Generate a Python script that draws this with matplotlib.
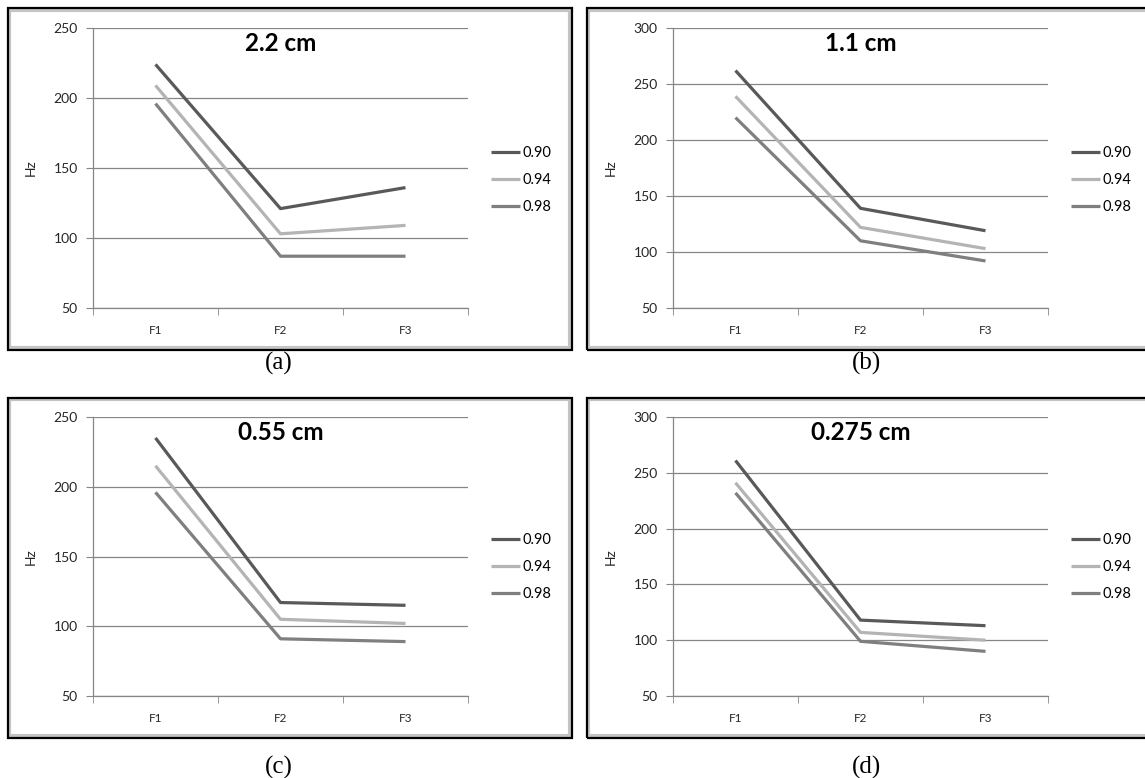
import matplotlib
matplotlib.use('Agg')
import matplotlib.pyplot as plt
from matplotlib.patches import Rectangle

plt.rcParams['font.family'] = ['Lato', 'DejaVu Sans']

categories = ['F1', 'F2', 'F3']
series_names = ['0.90', '0.94', '0.98']
series_colors = ['#595959', '#b4b4b4', '#7f7f7f']

titles = ['2.2 cm', '1.1 cm', '0.55 cm', '0.275 cm']
captions = ['(a)', '(b)', '(c)', '(d)']

# values (Hz)
vals_22 = [[224, 121, 136], [209, 103, 109], [196, 87, 87]]
vals_11 = [[262, 139, 119], [239, 122, 103], [220, 110, 92]]
vals_055 = [[235, 117, 115], [215, 105, 102], [196, 91, 89]]
vals_0275 = [[261, 118, 113], [241, 107, 100], [232, 99, 90]]
panel_values = [vals_22, vals_11, vals_055, vals_0275]

y_limits = [(50, 250), (50, 300), (50, 250), (50, 300)]

W, H = 1145, 778
fig = plt.figure(figsize=(W / 100, H / 100), dpi=100)


def px_axes(left, top, right, bottom):
    return fig.add_axes([left / W, 1 - bottom / H, (right - left) / W, (bottom - top) / H])


def frame(left, top, right, bottom):
    # black outer border plus grey inner one, like the exported chart
    fig.patches.append(Rectangle((left / W, 1 - bottom / H), (right - left) / W, (bottom - top) / H,
                                 transform=fig.transFigure, fill=False, edgecolor='#c4c4c4',
                                 linewidth=3, zorder=0))
    fig.patches.append(Rectangle(((left - 1.5) / W, 1 - (bottom + 1.5) / H), (right - left + 3) / W,
                                 (bottom - top + 3) / H, transform=fig.transFigure, fill=False,
                                 edgecolor='black', linewidth=1.6, zorder=1))


# pixel boxes: (frame, axes, caption position)
layout = [
    ((9, 10, 570, 348), (93, 28, 468, 308), (279, 363)),
    ((588, 10, 1150, 348), (673, 28, 1048, 308), (866, 363)),
    ((9, 399, 570, 736), (93, 417, 468, 696), (279, 767)),
    ((588, 399, 1150, 736), (673, 417, 1048, 696), (866, 767)),
]

for i in range(4):
    fr, ab, cap = layout[i]
    frame(*fr)
    ax = px_axes(*ab)
    x = list(range(len(categories)))
    for name, col, vals in zip(series_names, series_colors, panel_values[i]):
        ax.plot(x, vals, color=col, linewidth=2.3, label=name, solid_capstyle='butt')

    ax.set_xlim(-0.5, 2.5)
    ax.set_ylim(*y_limits[i])
    ax.set_yticks(range(y_limits[i][0], y_limits[i][1] + 1, 50))
    ax.set_xticks(x)
    ax.set_xticklabels(categories)
    ax.set_xticks([-0.5, 0.5, 1.5, 2.5], minor=True)
    ax.tick_params(axis='x', which='major', length=0, pad=12, labelsize=8.5, labelcolor='#262626')
    ax.tick_params(axis='x', which='minor', length=5, color='#868686', direction='out')
    ax.tick_params(axis='y', length=5, color='#868686', pad=6, labelsize=10, labelcolor='#262626')
    ax.yaxis.grid(True, color='#868686', linewidth=0.9)
    ax.set_axisbelow(True)
    for s in ['top', 'right']:
        ax.spines[s].set_visible(False)
    for s in ['left', 'bottom']:
        ax.spines[s].set_color('#868686')
        ax.spines[s].set_linewidth(0.9)

    ax.set_ylabel('Hz', fontsize=10, color='#262626')
    ax.yaxis.set_label_coords(-56 / 375, 0.5)
    ax.set_title(titles[i], fontsize=17.5, fontweight='bold', y=0.915, va='center')

    leg_y = 0.457 if i < 2 else 0.462
    ax.legend(loc='center left', bbox_to_anchor=(1.062, leg_y), frameon=False, fontsize=10.5,
              handlelength=1.95, handletextpad=0.2, labelspacing=0.9, borderpad=0, borderaxespad=0)

    fig.text(cap[0] / W, 1 - cap[1] / H, captions[i], ha='center', va='center',
             fontsize=18, family='Liberation Serif')

fig.savefig('out.png', dpi=100, facecolor='white')
